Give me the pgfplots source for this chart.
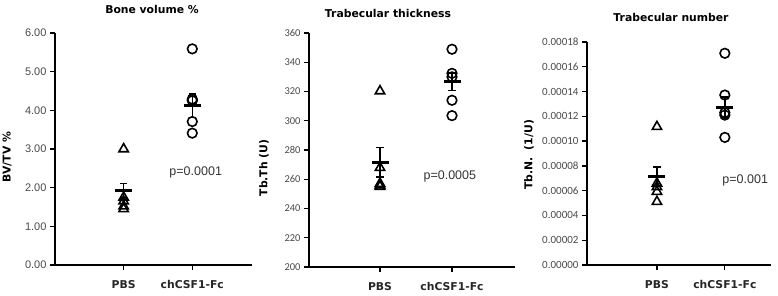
\documentclass[border=0pt]{standalone}
\usepackage{pgfplots}
\pgfplotsset{compat=1.18}
\usepackage{fontspec}
\setmainfont{Liberation Sans}
\newfontfamily\djv{DejaVu Sans}
\newfontfamily\carlito{Carlito}
\definecolor{tickgray}{HTML}{4A4A4A}
\definecolor{pgray}{HTML}{333333}
\pgfplotsset{
  panel/.style={
    scale only axis,
    anchor=south west,
    axis x line*=bottom,
    axis y line*=left,
    axis line style={line width=1.5pt, black},
    tick style={line width=1.3pt, black},
    tick align=outside,
    major tick length=5pt,
    xmin=0, xmax=2.87,
    xtick={1,2},
    xticklabels={PBS, chCSF1-Fc},
    xticklabel style={font=\djv\bfseries\fontsize{10.8}{12}\selectfont, text=black!85, yshift=-7pt},
    /pgf/number format/assume math mode=true,
    scaled y ticks=false,
    clip=false,
  },
  tri/.style={only marks, mark=triangle, mark size=5.4pt, mark options={line width=1.6pt, black, fill=white}},
  circ/.style={only marks, mark=o, mark size=4.8pt, mark options={line width=1.6pt, black}},
  meanbar/.style={only marks, mark=-, mark size=8.5pt, mark options={line width=2.6pt, black},
    error bars/.cd, y dir=both, y explicit,
    error bar style={line width=1.5pt, black},
    error mark options={rotate=90, mark size=3.6pt, line width=1.5pt, black}},
}
\begin{document}
\begin{tikzpicture}
\useasboundingbox (0pt,0pt) rectangle (778pt,295pt);

% Panel 1: Bone volume %
\begin{axis}[panel, at={(55pt,30pt)}, width=197pt, height=232pt,
  ymin=0, ymax=6, ytick={0,1,2,3,4,5,6},
  yticklabel style={font=\fontsize{11}{12}\selectfont, text=tickgray,
    /pgf/number format/.cd, fixed, fixed zerofill, precision=2}]
\addplot[tri] coordinates {(1,3.00) (1,1.75) (1,1.65) (1,1.52) (1,1.45)};
\addplot[circ] coordinates {(2,5.59) (2,4.29) (2,4.25) (2,3.71) (2,3.41)};
\addplot[meanbar] coordinates {(1,1.92) +- (0,0.19) (2,4.12) +- (0,0.30)};
\node[font=\fontsize{12.5}{14}\selectfont, text=pgray] at (axis cs:2.05,2.4) {p=0.0001};
\end{axis}

% Panel 2: Trabecular thickness
\begin{axis}[panel, at={(309pt,28pt)}, width=206pt, height=234pt,
  xmin=0.014, xmax=2.875,
  ymin=200, ymax=360, ytick={200,220,...,360},
  yticklabel style={font=\carlito\fontsize{10.5}{12}\selectfont, text=tickgray}]
\addplot[tri] coordinates {(1,320.3) (1,267.9) (1,257) (1,255) (1,256)};
\addplot[circ] coordinates {(2,348.9) (2,332.4) (2,330) (2,314) (2,303.5)};
\addplot[meanbar] coordinates {(1,271.6) +- (0,10) (2,326.8) +- (0,6)};
\node[font=\fontsize{12.5}{14}\selectfont, text=pgray] at (axis cs:1.97,262) {p=0.0005};
\end{axis}

% Panel 3: Trabecular number
\begin{axis}[panel, at={(587pt,30pt)}, width=184pt, height=223pt,
  xmin=-0.03, xmax=2.68,
  ymin=0, ymax=0.00018, ytick={0,0.00002,0.00004,0.00006,0.00008,0.0001,0.00012,0.00014,0.00016,0.00018},
  yticklabel style={font=\carlito\fontsize{11}{12}\selectfont, text=tickgray,
    /pgf/number format/.cd, fixed, fixed zerofill, precision=5}]
\addplot[tri] coordinates {(1,0.0001116) (1,0.0000659) (1,0.0000630) (1,0.0000592) (1,0.0000511)};
\addplot[circ] coordinates {(2,0.0001709) (2,0.0001372) (2,0.0001230) (2,0.0001210) (2,0.0001030)};
\addplot[meanbar] coordinates {(1,0.0000713) +- (0,0.0000080) (2,0.0001270) +- (0,0.0000085)};
\node[font=\fontsize{12.5}{14}\selectfont, text=pgray] at (axis cs:2.3,0.000068) {p=0.001};
\end{axis}

% Titles
\node[font=\djv\bfseries\fontsize{10.8}{12}\selectfont] at (152pt,286pt) {Bone volume \%};
\node[font=\djv\bfseries\fontsize{10.8}{12}\selectfont] at (388pt,282pt) {Trabecular thickness};
\node[font=\djv\bfseries\fontsize{10.8}{12}\selectfont] at (671pt,278pt) {Trabecular number};

% Y labels
\node[rotate=90, font=\djv\bfseries\fontsize{10.8}{12}\selectfont] at (7pt,138pt) {BV/TV \%};
\node[rotate=90, font=\djv\bfseries\fontsize{10.8}{12}\selectfont] at (264pt,127pt) {Tb.Th (U)};
\node[rotate=90, font=\djv\bfseries\fontsize{10.8}{12}\selectfont] at (529pt,140pt) {Tb.N.\ \ (1/U)};
\end{tikzpicture}
\end{document}
